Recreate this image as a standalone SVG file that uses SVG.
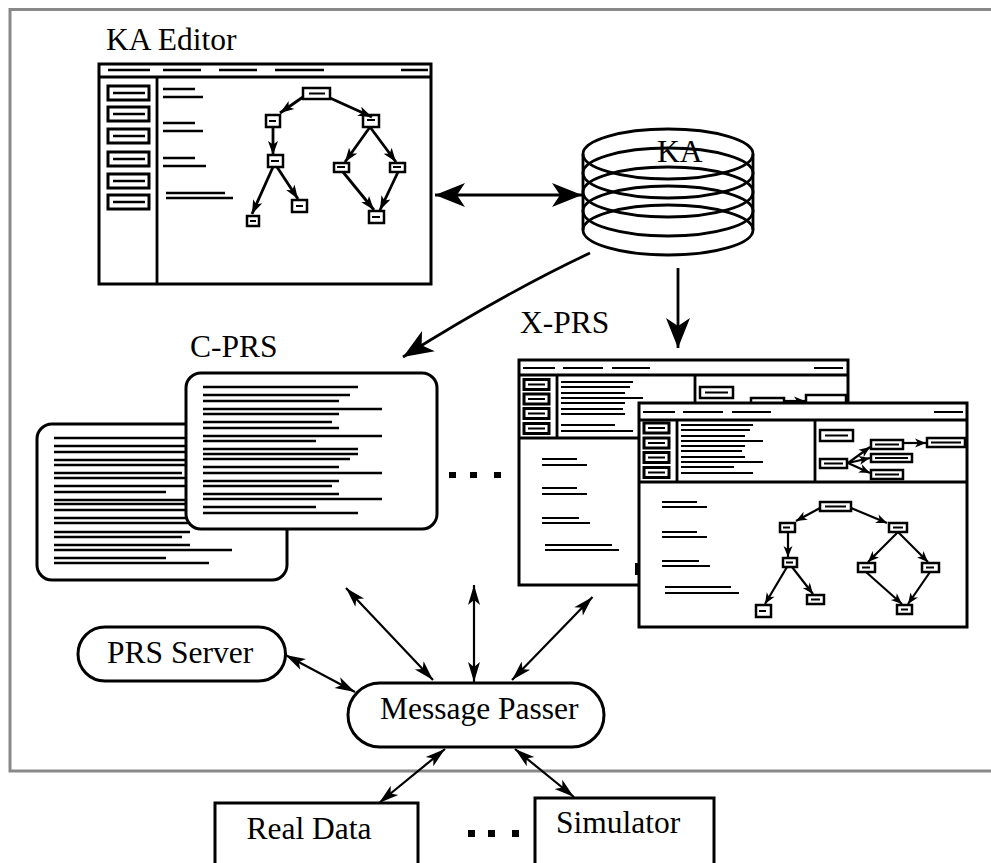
<svg xmlns="http://www.w3.org/2000/svg" width="991" height="863" viewBox="0 0 991 863">
<style>
.w{fill:#fff;stroke:#000;stroke-width:3}
.b{fill:#fff;stroke:#000;stroke-width:2.5}
.ln{fill:none;stroke:#000;stroke-width:2.5}
.ln2{fill:none;stroke:#000;stroke-width:2.2}
.c{fill:none;stroke:#000;stroke-width:2.8}
.cm{fill:none;stroke:#000;stroke-width:2.2}
.t{font-family:"Liberation Serif","Times New Roman",serif;font-size:31.5px;fill:#000}
.dot{fill:#000}
</style>
<defs>
<marker id="big" markerUnits="userSpaceOnUse" markerWidth="32" markerHeight="26" refX="30" refY="12" orient="auto-start-reverse" overflow="visible"><path d="M0,0 L30,12 L0,24 L8,12 Z" fill="#000"/></marker>
<marker id="mid" markerUnits="userSpaceOnUse" markerWidth="22" markerHeight="13" refX="20" refY="6" orient="auto-start-reverse" overflow="visible"><path d="M0,0 L20,6 L0,12 L5,6 Z" fill="#000"/></marker>
<marker id="sm" markerUnits="userSpaceOnUse" markerWidth="16" markerHeight="12" refX="14" refY="5" orient="auto" overflow="visible"><path d="M0,0 L14,5 L0,10 L3.5,5 Z" fill="#000"/></marker>
<marker id="tn" markerUnits="userSpaceOnUse" markerWidth="12" markerHeight="10" refX="11" refY="4.5" orient="auto" overflow="visible"><path d="M0,0 L11,4.5 L0,9 L3,4.5 Z" fill="#000"/></marker>
</defs>
<rect id="frame" x="10" y="9.5" width="995" height="761.5" fill="none" stroke="#888" stroke-width="3"/>

<g id="ka-editor">
<text class="t" x="106" y="50">KA Editor</text>
<rect class="w" x="99" y="64" width="332" height="220"/>
<path class="c" d="M99,77H431 M157,77V284"/>
<path class="ln" d="M108,70H150 M163,70H201 M219,70H257 M275,70H324 M401,70H428"/>
<g class="w">
<rect x="108" y="86" width="41" height="14"/><rect x="108" y="107" width="41" height="14"/><rect x="108" y="129" width="41" height="14"/><rect x="108" y="152" width="41" height="14"/><rect x="108" y="174" width="41" height="14"/><rect x="108" y="195" width="41" height="14"/>
</g>
<path class="ln" d="M113,93H145 M113,114H145 M113,136H145 M113,159H145 M113,181H145 M113,202H145"/>
<path class="ln" d="M163,89H195 M163,97H203 M163,123H195 M163,131H203 M163,158H195 M163,166H206 M166,193H225 M166,198H233"/>
<g class="b">
<rect x="303" y="88" width="27" height="11"/><rect x="266" y="115" width="14" height="12"/><rect x="363" y="115" width="16" height="12"/><rect x="268" y="155" width="15" height="12"/><rect x="247" y="216" width="12" height="10"/><rect x="292" y="200" width="15" height="12"/><rect x="334" y="163" width="15" height="9"/><rect x="390" y="163" width="15" height="9"/><rect x="369" y="211" width="15" height="12"/>
</g>
<path class="ln2" d="M309,93.5H325 M269,121H276 M367,120H375 M271,161H279 M250,221H256 M296,206H303 M337,167H345 M393,167H401 M372,217H380"/>
<g class="c" marker-end="url(#sm)">
<path d="M303,97L280,113"/><path d="M330,98L372,117"/><path d="M273,127V155"/><path d="M273,167L252,214"/><path d="M277,167L298,199"/><path d="M370,127L345,162"/><path d="M370,127L396,162"/><path d="M343,172L374,210"/><path d="M398,172L380,210"/>
</g>
</g>

<g id="ka-db">
<g fill="none" stroke="#000" stroke-width="2.8">
<ellipse cx="668" cy="154" rx="85" ry="25"/><ellipse cx="668" cy="173" rx="85" ry="25"/><ellipse cx="668" cy="192" rx="85" ry="25"/><ellipse cx="668" cy="211" rx="85" ry="25"/><ellipse cx="668" cy="230" rx="85" ry="25"/>
<path d="M583,154V230 M753,154V230"/>
</g>
<text class="t" x="657" y="162">KA</text>
</g>

<g id="c-prs">
<text class="t" x="190" y="357">C-PRS</text>
<rect class="w" x="37" y="424" width="250" height="156" rx="15"/>
<path class="ln" d="M54,438H230 M54,446H230 M54,452H230 M54,460H230 M54,465H230 M54,473H182 M54,478H230 M54,486H230 M54,492H166 M54,500H230 M54,504H230 M54,510H230 M54,518H230 M54,523H230 M54,532H190 M54,537H182 M54,545H190 M54,550H232 M54,558H166 M54,563H209"/>
<rect class="w" x="186" y="373" width="251" height="156" rx="15"/>
<path class="ln" d="M203,387H358 M203,395H350 M203,401H339 M203,409H382 M203,414H339 M203,422H332 M203,428H339 M203,436H382 M203,441H316 M203,449H358 M203,454H358 M203,459H350 M203,467H339 M203,473H382 M203,481H339 M203,486H332 M203,494H339 M203,499H382 M203,507H316 M203,513H358"/>
</g>

<g id="dots">
<rect class="dot" x="449" y="472" width="7" height="6"/><rect class="dot" x="470" y="472" width="7" height="6"/><rect class="dot" x="494" y="472" width="7" height="6"/>
<rect class="dot" x="468" y="830" width="7" height="7"/><rect class="dot" x="488" y="830" width="7" height="7"/><rect class="dot" x="512" y="830" width="7" height="7"/>
</g>

<g id="x-prs">
<text class="t" x="520" y="333">X-PRS</text>
<g id="x-prs-back">
<rect class="w" x="519" y="360" width="329" height="225"/>
<path class="c" d="M519,375H848 M557,375V438 M695,375V438 M519,438H848"/>
<path class="ln2" d="M523,368H555 M563,368H603 M612,368H650 M814,368H843"/>
<g class="w"><rect x="524" y="379.5" width="25" height="10"/><rect x="524" y="394" width="25" height="10"/><rect x="524" y="408.5" width="25" height="10"/><rect x="524" y="423.5" width="25" height="10"/></g>
<path class="ln2" d="M528,384.5H545 M528,399H545 M528,413.5H545 M528,428.5H545"/>
<path class="ln2" d="M561,382H633 M561,387H630 M561,393H625 M561,398H643 M561,403H625 M561,409H623 M561,414H625 M561,425H615 M561,431H633"/>
<g class="b"><rect x="700" y="387" width="33" height="11"/><rect x="751" y="398" width="33" height="10"/><rect x="806" y="395" width="40" height="10"/></g>
<path class="ln2" d="M705,392.5H728 M755,403H780"/>
<path class="cm" d="M784,401H805" marker-end="url(#tn)"/>
<path class="ln2" d="M542,459H577 M542,465H587 M542,488H577 M542,494H587 M542,518H579 M542,523H590 M545,545H612 M545,550H619"/>
<rect x="635" y="563" width="4" height="12" fill="#000"/>
</g>
<g id="x-prs-front">
<rect class="w" x="639" y="403" width="328" height="224"/>
<path class="c" d="M639,420H967 M677,420V482 M815,420V482 M639,482H967"/>
<path class="ln2" d="M643,412H675 M683,412H723 M732,412H771 M934,412H963"/>
<g class="w"><rect x="644" y="423" width="25" height="10"/><rect x="644" y="438" width="25" height="10"/><rect x="644" y="452.5" width="25" height="10"/><rect x="644" y="467.5" width="25" height="10"/></g>
<path class="ln2" d="M648,428H665 M648,443H665 M648,457.5H665 M648,472.5H665"/>
<path class="ln2" d="M681,425H753 M681,430H750 M681,436H745 M681,441H763 M681,446H745 M681,451H742 M681,457H745 M681,462H763 M681,467H734 M681,473H753"/>
<g class="b"><rect x="820" y="430" width="33" height="11"/><rect x="820" y="459" width="27" height="9"/><rect x="871" y="440" width="32" height="9"/><rect x="871" y="454" width="41" height="8"/><rect x="871" y="470" width="32" height="9"/><rect x="927" y="438" width="38" height="9"/></g>
<path class="ln2" d="M825,435.5H848 M824,463.5H843 M875,444.5H899 M875,458H908 M875,474.5H899 M931,442.5H961"/>
<g class="cm" marker-end="url(#tn)"><path d="M903,443H926"/><path d="M848,463L870,447"/><path d="M848,463L870,458"/><path d="M848,463L870,473"/></g>
<path class="ln2" d="M662,502H697 M662,507H707 M662,532H697 M662,537H707 M662,561H699 M662,566H710 M665,587H731 M665,593H739"/>
<g class="b"><rect x="820" y="502" width="31" height="9"/><rect x="780" y="523" width="15" height="9"/><rect x="889" y="523" width="18" height="9"/><rect x="783" y="558" width="14" height="9"/><rect x="756" y="605" width="15" height="12"/><rect x="807" y="595" width="17" height="9"/><rect x="858" y="563" width="17" height="9"/><rect x="922" y="563" width="17" height="9"/><rect x="897" y="605" width="15" height="9"/></g>
<path class="ln2" d="M825,506.5H846 M783,527.5H790 M893,527.5H903 M786,562.5H793 M759,611H766 M811,599.5H820 M862,567.5H870 M926,567.5H934 M901,609.5H908"/>
<g class="cm" marker-end="url(#tn)"><path d="M820,508L796,521"/><path d="M851,508L887,523"/><path d="M788,532V557"/><path d="M787,567L765,604"/><path d="M792,567L813,594"/><path d="M898,532L868,562"/><path d="M898,532L928,562"/><path d="M866,572L902,604"/><path d="M930,572L908,604"/></g>
</g>
</g>

<g id="prs-server">
<rect class="w" x="78" y="627" width="207.5" height="54" rx="27"/>
<text class="t" x="107" y="663">PRS Server</text>
</g>
<g id="message-passer">
<rect class="w" x="348" y="683" width="256" height="64" rx="32"/>
<text class="t" x="380" y="719">Message Passer</text>
</g>
<g id="real-data">
<rect class="w" x="215" y="803" width="203" height="80"/>
<text class="t" x="246.5" y="839">Real Data</text>
</g>
<g id="simulator">
<rect class="w" x="535" y="798" width="179" height="85"/>
<text class="t" x="556" y="833">Simulator</text>
</g>

<g id="connectors">
<g class="c" marker-end="url(#big)">
<path d="M435,195H582" marker-start="url(#big)"/>
<path d="M678,268V348"/>
<path d="M590,253Q505,293 403,357"/>
</g>
<g class="cm" marker-start="url(#mid)" marker-end="url(#mid)">
<path d="M285.5,655L355,692"/>
<path d="M346,588L433,680"/>
<path d="M474,585V682"/>
<path d="M592.5,597L512,680"/>
<path d="M445,749L379,803"/>
<path d="M515,749L574,797"/>
</g>
</g>
</svg>
